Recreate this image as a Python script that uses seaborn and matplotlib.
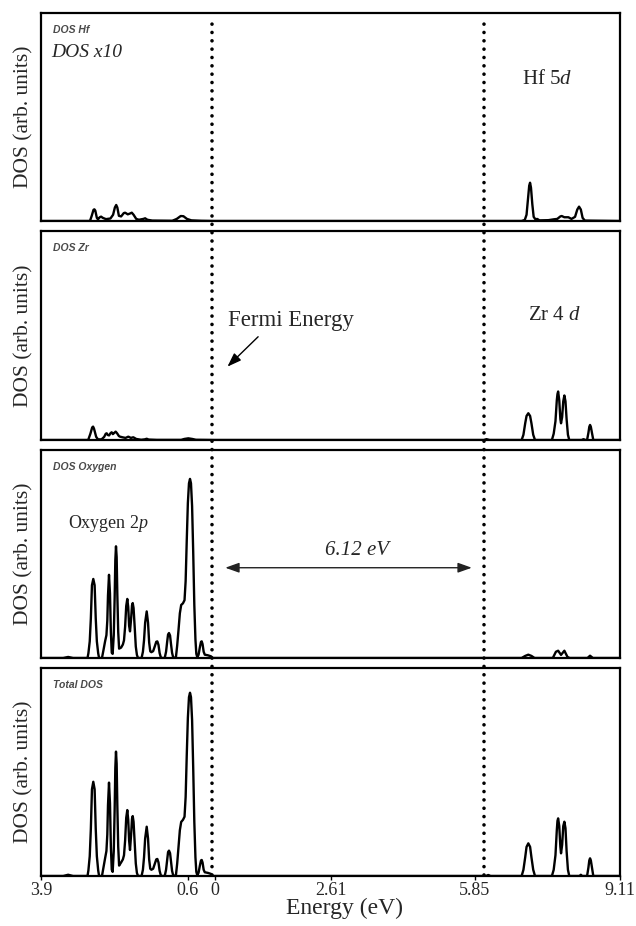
import matplotlib
matplotlib.use("Agg")
import matplotlib.pyplot as plt
import matplotlib.transforms as mtransforms
from matplotlib.lines import Line2D
import seaborn as sns

# ---------------- data (energy in eV, DOS in arbitrary units) ----------------
fermi_level = -0.06
band_gap = 6.12
cbm = fermi_level + band_gap

# valence band grid shared by the oxygen and total DOS curves
valence_energy = [
    -3.90, -3.40, -3.29, -3.18,
    -2.855, -2.835, -2.805, -2.78, -2.755, -2.725, -2.695, -2.67, -2.645, -2.615, -2.595,
    -2.53, -2.49, -2.46, -2.43, -2.41, -2.395, -2.372, -2.35, -2.33, -2.31,
    -2.29, -2.265, -2.245, -2.23, -2.215, -2.20, -2.185, -2.165, -2.145,
    -2.10, -2.06, -2.035,
    -2.01, -1.985, -1.961, -1.94, -1.92, -1.90, -1.875, -1.855, -1.839, -1.82, -1.795, -1.77,
    -1.745, -1.72,
    -1.64, -1.61, -1.585, -1.56, -1.525, -1.495, -1.47, -1.445, -1.42, -1.38, -1.34, -1.31,
    -1.286, -1.26, -1.235, -1.21, -1.19,
    -1.12, -1.09, -1.065, -1.045, -1.024, -1.00, -0.98, -0.955, -0.93,
    -0.87, -0.84, -0.81, -0.78, -0.75, -0.71, -0.675, -0.65, -0.625, -0.60, -0.575, -0.552,
    -0.53, -0.505, -0.48, -0.455, -0.43, -0.41, -0.39, -0.36, -0.33, -0.305, -0.289, -0.27,
    -0.245, -0.22, -0.15, -0.08, -0.04,
]

tot_valence_dos = [
    0.0, 0.0, 0.6, 0.0,
    0.0, 2.7, 9.5, 22.6, 41.7, 45.3, 41.7, 22.6, 9.5, 2.7, 0.0,
    0.0, 5.0, 8.5, 12.0, 20.0, 34.0, 44.9, 35.0, 14.0, 3.0,
    2.0, 12.0, 32.0, 52.0, 59.8, 54.0, 34.0, 14.0, 5.0,
    6.5, 8.0, 10.0,
    17.0, 28.0, 31.7, 27.0, 17.0, 12.5, 20.0, 27.5, 28.8, 26.0, 16.0, 6.0, 1.5, 0.0,
    0.0, 3.0, 9.0, 18.0, 23.7, 18.0, 8.0, 3.5, 3.0, 3.5, 6.0, 8.0, 8.2, 6.5, 2.5, 0.5, 0.0,
    0.0, 3.0, 8.0, 11.5, 12.2, 11.0, 7.0, 2.5, 0.3,
    0.0, 6.0, 14.0, 22.0, 26.0, 27.0, 28.5, 38.0, 58.0, 76.0, 86.0, 88.1, 86.0, 75.0, 52.0,
    26.0, 9.0, 2.0, 0.5, 1.5, 5.0, 7.5, 7.7, 6.5, 3.0, 1.8, 1.5, 1.0, 0.0,
]

ox_valence_dos = [
    0.0, 0.0, 0.5, 0.0,
    0.0, 2.3, 8.0, 19.0, 35.0, 38.0, 35.0, 19.0, 8.0, 2.3, 0.0,
    0.0, 4.5, 8.0, 11.0, 18.0, 30.0, 40.0, 31.0, 12.5, 2.5,
    2.0, 11.0, 29.0, 47.0, 53.7, 48.5, 30.5, 12.5, 4.5,
    5.0, 6.5, 8.5,
    15.0, 25.0, 28.4, 24.5, 15.5, 12.8, 19.0, 25.3, 26.4, 24.0, 15.0, 5.5, 1.5, 0.0,
    0.0, 3.0, 8.5, 17.0, 22.4, 17.0, 7.5, 3.2, 2.8, 3.3, 5.8, 7.8, 8.0, 6.3, 2.4, 0.5, 0.0,
    0.0, 3.0, 7.8, 11.3, 12.0, 10.8, 6.9, 2.5, 0.3,
    0.0, 6.0, 13.5, 21.5, 25.5, 26.3, 27.8, 37.0, 56.5, 74.5, 84.0, 86.1, 84.0, 73.0, 51.0,
    25.5, 9.0, 2.0, 0.5, 1.5, 5.2, 7.8, 8.0, 6.7, 3.0, 1.6, 1.3, 0.8, 0.0,
]

tot_cond_energy = [6.10, 6.15, 6.20, 6.90, 6.94, 6.98, 7.01, 7.05, 7.09, 7.12, 7.16, 7.20,
                   7.58, 7.62, 7.66, 7.69, 7.705, 7.72, 7.745, 7.77, 7.785, 7.81, 7.835, 7.86,
                   7.885, 7.91, 7.94, 7.97, 8.20, 8.23, 8.26, 8.37, 8.40, 8.42, 8.437, 8.455,
                   8.48, 8.51, 9.11]
tot_cond_dos = [0.0, 0.5, 0.0, 0.0, 3.0, 9.0, 14.0, 15.7, 14.0, 9.0, 3.0, 0.0,
                0.0, 3.0, 10.0, 22.0, 26.5, 27.7, 24.0, 14.0, 10.9, 15.0, 24.0, 26.1,
                23.0, 12.0, 3.0, 0.0, 0.0, 0.6, 0.0, 0.0, 4.0, 7.5, 8.5, 7.5,
                4.0, 0.0, 0.0]

ox_cond_energy = [0.0, 6.90, 6.98, 7.05, 7.12, 7.19, 7.60, 7.67, 7.72, 7.785, 7.86, 7.93,
                  7.98, 8.38, 8.437, 8.50, 9.11]
ox_cond_dos = [0.0, 0.0, 1.0, 1.6, 1.0, 0.0, 0.0, 3.0, 3.5, 1.5, 3.5, 0.5,
               0.0, 0.0, 1.1, 0.0, 0.0]

hf_energy = [-3.90, -2.80, -2.76, -2.72, -2.70, -2.68, -2.645, -2.62, -2.58, -2.55, -2.51, -2.44,
             -2.34, -2.28, -2.24, -2.21, -2.185, -2.15, -2.10, -2.04, -2.01, -1.95, -1.90, -1.86,
             -1.82, -1.76, -1.70, -1.60, -1.56, -1.51, -1.40, -0.95, -0.85, -0.76, -0.70, -0.62,
             -0.52, -0.30, 0.00, 6.90, 6.97, 7.01, 7.04, 7.07, 7.089, 7.11, 7.14, 7.17, 7.21,
             7.25, 7.30, 7.50, 7.62, 7.70, 7.77, 7.80, 7.86, 7.95, 8.02, 8.10, 8.15, 8.19, 8.23,
             8.27, 8.32, 9.11]
hf_dos = [0.0, 0.0, 2.5, 5.4, 5.6, 5.0, 1.5, 0.8, 1.8, 2.1, 1.5, 0.9,
          1.2, 3.0, 6.5, 7.7, 6.5, 2.5, 2.2, 3.8, 4.0, 3.2, 3.6, 4.0,
          3.0, 1.0, 0.6, 1.0, 1.3, 0.6, 0.2, 0.1, 1.0, 2.4, 2.3, 1.0,
          0.3, 0.1, 0.0, 0.0, 0.5, 3.0, 10.0, 17.0, 18.4, 16.0, 8.0, 2.0, 0.8,
          1.0, 0.3, 0.4, 0.8, 1.0, 2.2, 2.4, 1.8, 1.8, 1.0, 2.0, 5.5, 6.9, 5.5,
          1.5, 0.2, 0.0]

zr_energy = [-3.90, -2.84, -2.79, -2.75, -2.73, -2.71, -2.66, -2.62, -2.54, -2.48, -2.445, -2.424,
             -2.40, -2.37, -2.34, -2.312, -2.285, -2.26, -2.222, -2.19, -2.15, -2.125, -2.07,
             -2.00, -1.938, -1.88, -1.826, -1.76, -1.65, -1.57, -1.525, -1.48, -1.30, -0.75,
             -0.68, -0.59, -0.50, -0.42, -0.20, 0.00, 6.05, 6.11, 6.18, 6.90, 6.94, 6.98, 7.01,
             7.05, 7.09, 7.12, 7.16, 7.20, 7.58, 7.62, 7.66, 7.69, 7.705, 7.72, 7.745, 7.77,
             7.785, 7.81, 7.835, 7.86, 7.885, 7.91, 7.94, 7.97, 8.25, 8.29, 8.33, 8.37, 8.40,
             8.42, 8.437, 8.455, 8.48, 8.51, 9.11]
zr_dos = [0.0, 0.0, 3.0, 6.0, 6.4, 5.5, 1.5, 0.3, 0.3, 1.5, 3.0, 3.2,
          2.4, 2.2, 3.2, 3.7, 2.8, 3.3, 4.0, 3.2, 1.9, 1.6, 1.3,
          1.0, 1.6, 1.0, 1.3, 0.5, 0.1, 0.3, 0.6, 0.2, 0.05, 0.05,
          0.5, 0.8, 0.5, 0.1, 0.05, 0.0, 0.0, 0.4, 0.0, 0.0, 2.5, 8.0, 11.5,
          12.8, 11.5, 8.0, 2.5, 0.0, 0.0, 3.0, 9.0, 19.0, 22.0, 23.2, 19.0, 10.0,
          8.0, 11.0, 18.5, 21.3, 18.5, 10.0, 2.5, 0.0, 0.0, 0.4, 0.0, 0.0, 3.4,
          6.3, 7.2, 6.3, 3.4, 0.0, 0.0]

panel_tags = ["DOS Hf", "DOS Zr", "DOS Oxygen", "Total DOS"]
tick_values = [-3.9, -0.6, 0.0, 2.61, 5.85, 9.11]
tick_labels = ["3.9", "0.6", "0", "2.61", "5.85", "9.11"]

# ---------------- style ----------------
sns.set_theme(style="white")
plt.rcParams["font.family"] = ["Liberation Serif", "DejaVu Serif"]
plt.rcParams["mathtext.fontset"] = "custom"
plt.rcParams["mathtext.rm"] = "Liberation Serif"
plt.rcParams["mathtext.it"] = "Liberation Serif:italic"

fig = plt.figure(figsize=(6.36, 9.26), dpi=100)
fig.patch.set_facecolor("white")

left, width = 41 / 636, 579 / 636
panel_px = [(13, 221), (231, 440), (450, 658), (668, 876)]
axes = []
for top, bot in panel_px:
    ax = fig.add_axes([left, 1 - bot / 926, width, (bot - top) / 926])
    ax.set_facecolor("none")
    axes.append(ax)

series = [
    (hf_energy, hf_dos),
    (zr_energy, zr_dos),
    (valence_energy + ox_cond_energy, ox_valence_dos + ox_cond_dos),
    (valence_energy + tot_cond_energy, tot_valence_dos + tot_cond_dos),
]
for ax, (e, d), tag in zip(axes, series, panel_tags):
    sns.lineplot(x=e, y=d, ax=ax, color="black", linewidth=1.7,
                 estimator=None, sort=False, legend=False)
    ax.set_xlim(-3.9, 9.11)
    ax.set_ylim(0, 100)
    ax.set_yticks([])
    ax.set_ylabel("DOS (arb. units)", fontsize=15.5, va="center")
    ax.yaxis.set_label_coords(-0.029, 0.5)
    for s in ax.spines.values():
        s.set_visible(True)
        s.set_color("black")
        s.set_linewidth(1.6)
    ax.text(0.021, 0.917, tag, transform=ax.transAxes, ha="left", va="center",
            fontsize=7.5, fontweight="bold", fontstyle="italic",
            family=["Liberation Sans", "DejaVu Sans"], color="#4a4a4a")

for ax in axes[:3]:
    ax.set_xticks([])
    ax.set_xlabel("")

ax4 = axes[3]
ax4.set_xticks(tick_values)
ax4.set_xticklabels(tick_labels)
ax4.tick_params(axis="x", direction="out", length=3, width=1, labelsize=13,
                pad=1.5, bottom=True, color="black")
ax4.set_xlabel("Energy (eV)", fontsize=17, va="center")
ax4.xaxis.set_label_coords(0.525, -0.158)

# dotted lines at the Fermi level and the conduction band edge, across all panels
blend = mtransforms.blended_transform_factory(ax4.transData, fig.transFigure)
for xv in (fermi_level, cbm):
    fig.add_artist(Line2D([xv, xv], [1 - 875 / 926, 1 - 16 / 926], transform=blend,
                          color="black", linewidth=2.6, linestyle=(0, (0.01, 2.3)),
                          dash_capstyle="round", zorder=5))

# annotations
axes[0].text(0.0185, 0.808, "DOS x10", transform=axes[0].transAxes, ha="left", va="center",
             fontsize=14, fontstyle="italic")
axes[0].text(0.830, 0.678, "Hf 5$d$", transform=axes[0].transAxes, ha="left", va="center",
             fontsize=15)
axes[1].text(0.3225, 0.574, "Fermi Energy", transform=axes[1].transAxes, ha="left",
             va="center", fontsize=16.5)
axes[1].text(0.8406, 0.595, "Zr 4 $d$", transform=axes[1].transAxes, ha="left", va="center",
             fontsize=15)
axes[1].annotate("", xy=(0.322, 0.351), xytext=(0.375, 0.494), xycoords="axes fraction",
                 textcoords="axes fraction",
                 arrowprops=dict(arrowstyle="-|>,head_length=0.7,head_width=0.25",
                                 color="black", lw=1.0, shrinkA=0, shrinkB=0))
axes[2].text(0.047, 0.649, "Oxygen 2$p$", transform=axes[2].transAxes, ha="left",
             va="center", fontsize=13)
gap_y = 0.434
axes[2].annotate("", xy=(cbm - 0.28, gap_y), xytext=(fermi_level + 0.30, gap_y),
                 xycoords=("data", "axes fraction"), textcoords=("data", "axes fraction"),
                 arrowprops=dict(arrowstyle="<|-|>,head_length=0.7,head_width=0.25",
                                 color="#222222", lw=1.0, shrinkA=0, shrinkB=0))
axes[2].text(0.545, 0.519, f"{band_gap:.2f} eV", transform=axes[2].transAxes, ha="center",
             va="center", fontsize=15, fontstyle="italic")

fig.savefig("out.png", dpi=100, facecolor="white")
